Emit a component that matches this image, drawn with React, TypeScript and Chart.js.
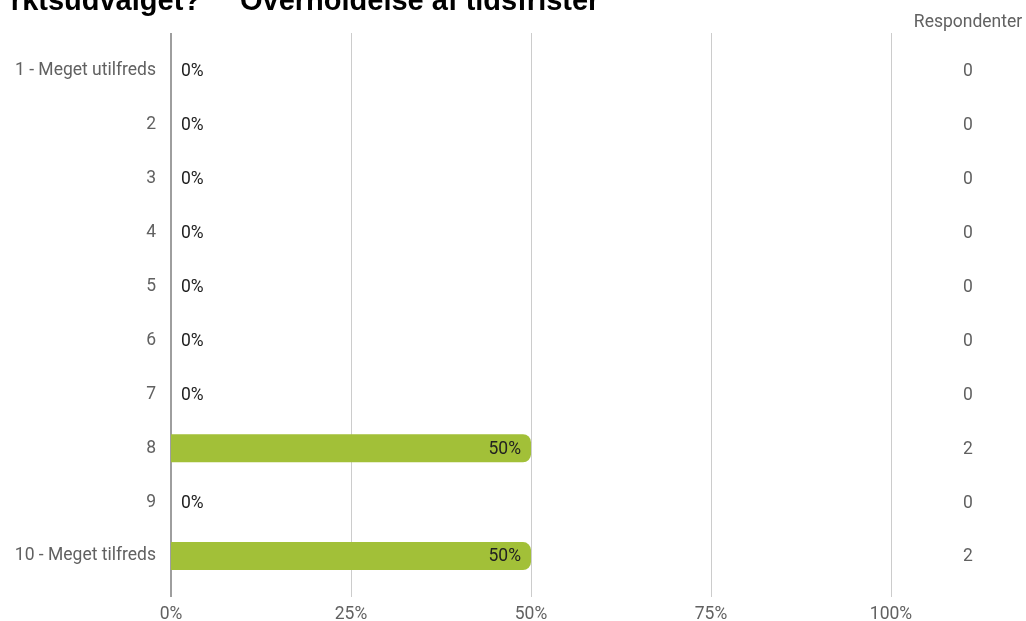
import React, { useEffect, useRef } from "react";
import { Chart, registerables } from "chart.js";

Chart.register(...registerables);

const titleLead = "rktsudvalget?";
const titleRest = "Overholdelse af tidsfrister";
const categories = [
  "1 - Meget utilfreds",
  "2",
  "3",
  "4",
  "5",
  "6",
  "7",
  "8",
  "9",
  "10 - Meget tilfreds",
];
const percentages = [0, 0, 0, 0, 0, 0, 0, 50, 0, 50];
const respondents = [0, 0, 0, 0, 0, 0, 0, 2, 0, 2];
const countHeader = "Respondenter";

const FONT = "Roboto";
const FSIZE = 17.5;
const LABEL_GRAY = "#616161";

const gridPlugin = {
  id: "extendedGrid",
  beforeDatasetsDraw(chart: any) {
    const { ctx, chartArea, scales } = chart;
    const xs = scales.x;
    ctx.save();
    xs.ticks.forEach((t: any) => {
      const x = Math.round(xs.getPixelForValue(t.value));
      if (t.value === 0) {
        ctx.strokeStyle = "#9e9e9e";
        ctx.lineWidth = 2;
        ctx.beginPath();
        ctx.moveTo(x, chartArea.top - 11);
        ctx.lineTo(x, chartArea.bottom + 14);
        ctx.stroke();
      } else {
        ctx.strokeStyle = "#cccccc";
        ctx.lineWidth = 1;
        ctx.beginPath();
        ctx.moveTo(x + 0.5, chartArea.top - 11);
        ctx.lineTo(x + 0.5, chartArea.bottom + 14);
        ctx.stroke();
      }
    });
    ctx.restore();
  },
};

const labelPlugin = {
  id: "valueLabels",
  afterDatasetsDraw(chart: any) {
    const { ctx, scales } = chart;
    const meta = chart.getDatasetMeta(0);
    const xs = scales.x;
    ctx.save();
    ctx.font = `${FSIZE}px ${FONT}`;
    ctx.textBaseline = "middle";
    meta.data.forEach((bar: any, i: number) => {
      const v = percentages[i];
      ctx.fillStyle = "#212121";
      if (v === 0) {
        ctx.textAlign = "left";
        ctx.fillText(`${v}%`, xs.getPixelForValue(0) + 10, bar.y + 1);
      } else {
        ctx.textAlign = "right";
        ctx.fillText(`${v}%`, bar.x - 10, bar.y + 1);
      }
      ctx.fillStyle = LABEL_GRAY;
      ctx.textAlign = "center";
      ctx.fillText(String(respondents[i]), 968, bar.y + 1);
    });
    ctx.fillStyle = LABEL_GRAY;
    ctx.textAlign = "center";
    ctx.fillText(countHeader, 968, 23);

    // title (cut off at the top of the picture)
    ctx.fillStyle = "#000000";
    ctx.font = `bold 29px "Liberation Sans"`;
    ctx.textBaseline = "alphabetic";
    ctx.textAlign = "right";
    ctx.fillText(titleLead, 201, 10);
    ctx.textAlign = "left";
    ctx.fillText(titleRest, 240, 10);
    ctx.restore();
  },
};

export default function App() {
  const ref = useRef<HTMLCanvasElement | null>(null);

  useEffect(() => {
    document.body.style.margin = "0";
    if (!ref.current) return;
    const chart = new Chart(ref.current, {
      type: "bar",
      data: {
        labels: categories,
        datasets: [
          {
            data: percentages,
            backgroundColor: "#a2c038",
            borderWidth: 0,
            borderRadius: 8,
            borderSkipped: "start",
            barPercentage: 0.52,
            categoryPercentage: 1,
          },
        ],
      },
      options: {
        indexAxis: "y",
        responsive: false,
        animation: false,
        devicePixelRatio: 1,
        layout: { padding: { top: 44, right: 135, left: 0, bottom: 0 } },
        plugins: {
          legend: { display: false },
          tooltip: { enabled: false },
          title: { display: false },
        },
        scales: {
          x: {
            min: 0,
            max: 100,
            grid: { display: false, drawTicks: false },
            border: { display: false },
            ticks: {
              stepSize: 25,
              padding: 21,
              color: LABEL_GRAY,
              font: { family: FONT, size: FSIZE },
              callback: (v: any) => `${v}%`,
            },
            afterFit: (s: any) => {
              s.height = 38;
            },
          },
          y: {
            grid: { display: false, drawTicks: false },
            border: { display: false },
            ticks: {
              padding: 15,
              color: LABEL_GRAY,
              font: { family: FONT, size: FSIZE },
            },
            afterFit: (s: any) => {
              s.width = 171;
            },
          },
        },
      },
      plugins: [gridPlugin, labelPlugin],
    });
    return () => chart.destroy();
  }, []);

  return (
    <div style={{ position: "relative", width: 1026, height: 621 }}>
      <canvas ref={ref} width={1026} height={621} />
    </div>
  );
}
